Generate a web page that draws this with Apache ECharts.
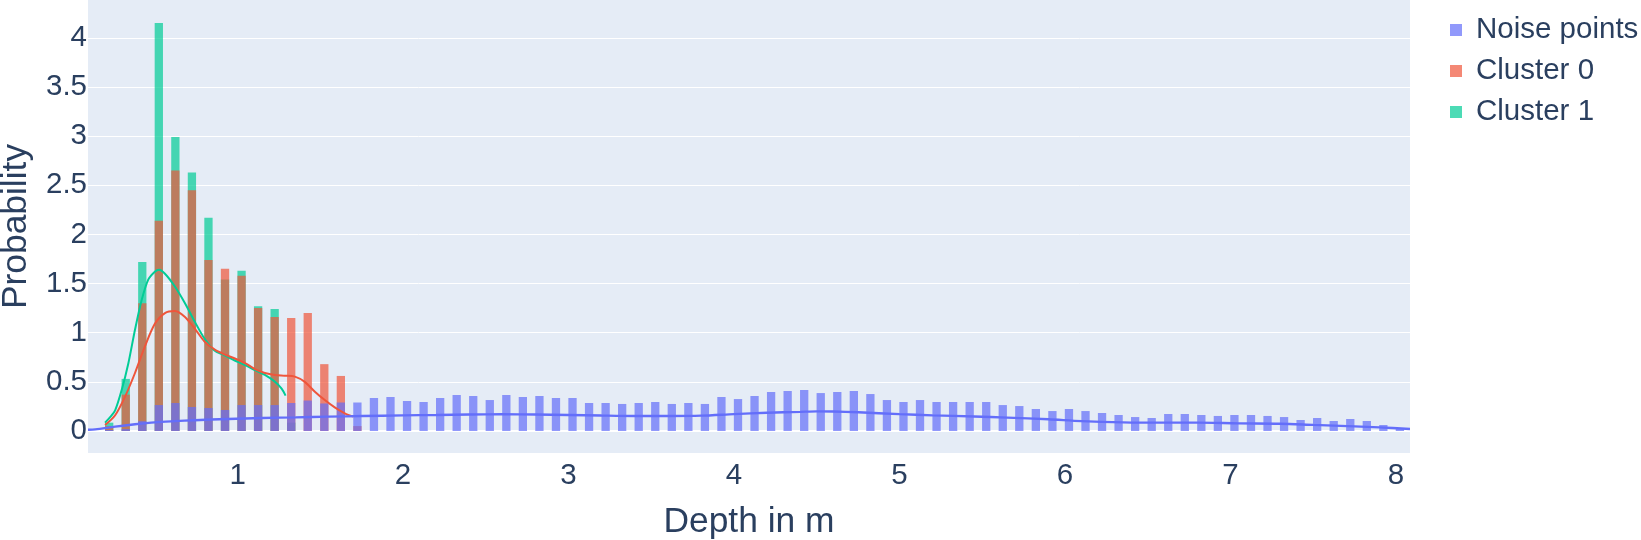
<!DOCTYPE html>
<html>
<head>
<meta charset="utf-8">
<script src="https://cdn.jsdelivr.net/npm/echarts@6.0.0/dist/echarts.min.js"></script>
<style>
  html, body { margin: 0; padding: 0; background: #ffffff; }
  #chart { width: 1641px; height: 540px; }
</style>
</head>
<body>
<div id="chart"></div>
<script>
// ---- Data ----
const binCenters = [
  0.224, 0.324, 0.424, 0.524, 0.624, 0.724, 0.824, 0.924, 1.024, 1.124,
  1.224, 1.324, 1.424, 1.524, 1.624, 1.724, 1.824, 1.924, 2.024, 2.124,
  2.224, 2.324, 2.424, 2.524, 2.624, 2.724, 2.824, 2.924, 3.024, 3.124,
  3.224, 3.324, 3.424, 3.524, 3.624, 3.724, 3.824, 3.924, 4.024, 4.124,
  4.224, 4.324, 4.424, 4.524, 4.624, 4.724, 4.824, 4.924, 5.024, 5.124,
  5.224, 5.324, 5.424, 5.524, 5.624, 5.724, 5.824, 5.924, 6.024, 6.124,
  6.224, 6.324, 6.424, 6.524, 6.624, 6.724, 6.824, 6.924, 7.024, 7.124,
  7.224, 7.324, 7.424, 7.524, 7.624, 7.724, 7.824, 7.924, 8.024
];

const noiseDensity = [
  0.01, 0.02, 0.10, 0.264, 0.285, 0.244, 0.234, 0.214, 0.264, 0.264,
  0.264, 0.285, 0.31, 0.28, 0.29, 0.29, 0.336, 0.346, 0.305, 0.295,
  0.336, 0.366, 0.356, 0.315, 0.366, 0.346, 0.356, 0.336, 0.336, 0.285,
  0.285, 0.275, 0.285, 0.295, 0.275, 0.285, 0.275, 0.346, 0.325, 0.356,
  0.397, 0.407, 0.417, 0.386, 0.397, 0.407, 0.376, 0.315, 0.295, 0.315,
  0.295, 0.295, 0.295, 0.295, 0.264, 0.254, 0.224, 0.203, 0.224, 0.203,
  0.183, 0.163, 0.142, 0.132, 0.173, 0.173, 0.163, 0.153, 0.163, 0.163,
  0.153, 0.142, 0.112, 0.132, 0.102, 0.122, 0.102, 0.061, 0.027
];

const cluster0Density = [
  0.05, 0.37, 1.30, 2.14, 2.65, 2.45, 1.74, 1.65, 1.58, 1.25,
  1.16, 1.15, 1.20, 0.68, 0.56, 0.05
];

const cluster1Density = [
  0.085, 0.53, 1.72, 4.15, 2.99, 2.63, 2.17, 1.54, 1.63, 1.27,
  1.24, 0.085
];

const noiseKdeX = [0.096, 0.14, 0.26, 0.38, 0.50, 0.62, 0.74, 0.94, 1.15, 1.35, 1.55, 1.75, 2.0, 2.2, 2.4, 2.6, 2.8, 3.0, 3.2, 3.4, 3.6, 3.8, 4.0, 4.2, 4.4, 4.5, 4.6, 4.75, 5.0, 5.2, 5.45, 5.65, 5.9, 6.1, 6.35, 6.6, 6.8, 7.05, 7.3, 7.5, 7.75, 7.9, 8.085];
const noiseKdeY = [0.012, 0.017, 0.044, 0.068, 0.088, 0.10, 0.11, 0.122, 0.132, 0.139, 0.146, 0.152, 0.159, 0.163, 0.168, 0.17, 0.168, 0.163, 0.157, 0.153, 0.153, 0.156, 0.172, 0.186, 0.195, 0.2, 0.198, 0.19, 0.172, 0.159, 0.148, 0.136, 0.119, 0.10, 0.088, 0.085, 0.085, 0.078, 0.074, 0.062, 0.047, 0.037, 0.02];

const cluster0KdeX = [0.199, 0.26, 0.32, 0.38, 0.44, 0.50, 0.561, 0.621, 0.682, 0.742, 0.80, 0.86, 0.92, 0.98, 1.045, 1.105, 1.165, 1.226, 1.286, 1.346, 1.406, 1.467, 1.527, 1.587, 1.648, 1.698];
const cluster0KdeY = [0.06, 0.16, 0.35, 0.59, 0.86, 1.09, 1.20, 1.22, 1.16, 1.04, 0.91, 0.83, 0.78, 0.74, 0.69, 0.63, 0.59, 0.57, 0.563, 0.553, 0.50, 0.40, 0.315, 0.24, 0.18, 0.146];

const cluster1KdeX = [0.199, 0.23, 0.26, 0.30, 0.34, 0.38, 0.42, 0.46, 0.50, 0.525, 0.561, 0.621, 0.682, 0.742, 0.80, 0.86, 0.92, 0.98, 1.045, 1.105, 1.165, 1.226, 1.266, 1.29];
const cluster1KdeY = [0.085, 0.14, 0.21, 0.42, 0.69, 1.03, 1.33, 1.54, 1.62, 1.64, 1.60, 1.47, 1.30, 1.11, 0.94, 0.82, 0.77, 0.72, 0.67, 0.62, 0.57, 0.50, 0.43, 0.36];

const seriesNames = ['Noise points', 'Cluster 0', 'Cluster 1'];
const xAxisTitle = 'Depth in m';
const yAxisTitle = 'Probability';

// ---- Helpers ----
function pairs(xs, ys) { return ys.map(function (y, i) { return [xs[i], y]; }); }
const FONT = '"Liberation Sans", Arial, sans-serif';
const TEXT = '#2a3f5f';
const X_MIN = 0.096, X_MAX = 8.085, Y_MIN = -0.2238, Y_MAX = 4.3845;

const chart = echarts.init(document.getElementById('chart'), null, { renderer: 'canvas' });

const option = {
  animation: false,
  backgroundColor: '#ffffff',
  textStyle: { fontFamily: FONT },
  grid: {
    left: 88, right: 231, top: 0, bottom: 87,
    show: true, backgroundColor: '#E5ECF6', borderWidth: 0,
    containLabel: false, outerBoundsMode: 'none'
  },
  legend: {
    show: true,
    orient: 'vertical',
    left: 1445, top: 10,
    itemWidth: 12, itemHeight: 12, itemGap: 11,
    icon: 'rect',
    data: seriesNames,
    textStyle: { fontSize: 29.5, color: TEXT, fontFamily: FONT, padding: [0, 0, 0, 9] }
  },
  xAxis: {
    type: 'value',
    min: X_MIN, max: X_MAX,
    splitNumber: 8,
    axisLine: { show: false, onZero: false },
    axisTick: { show: false },
    splitLine: { show: false },
    axisLabel: {
      fontSize: 29.5, color: TEXT, fontFamily: FONT, margin: 8,
      showMinLabel: false, showMaxLabel: false,
      formatter: function (v) { return Math.abs(v - Math.round(v)) < 1e-6 ? String(Math.round(v)) : ''; }
    },
    name: xAxisTitle,
    nameLocation: 'middle',
    nameGap: 52,
    nameTextStyle: { fontSize: 35.4, color: TEXT, fontFamily: FONT }
  },
  yAxis: {
    type: 'value',
    min: Y_MIN, max: Y_MAX,
    splitNumber: 9,
    axisLine: { show: false, onZero: false },
    axisTick: { show: false },
    splitLine: { show: true, showMinLine: false, showMaxLine: false, lineStyle: { color: '#ffffff', width: 1 } },
    axisLabel: {
      fontSize: 29.5, color: TEXT, fontFamily: FONT, margin: 1,
      padding: [9, 0, 0, 0],
      showMinLabel: false, showMaxLabel: false,
      formatter: function (v) {
        const r = Math.round(v * 2) / 2;
        if (Math.abs(v - r) > 1e-6 || r < 0) return '';
        return String(r);
      }
    },
    name: yAxisTitle,
    nameLocation: 'middle',
    nameGap: 54,
    nameRotate: 90,
    nameTextStyle: { fontSize: 35.4, color: TEXT, fontFamily: FONT }
  },
  series: [
    {
      name: 'zeroline', type: 'line', silent: true, symbol: 'none',
      data: [[X_MIN, 0], [X_MAX, 0]],
      lineStyle: { color: '#ffffff', width: 2 }, z: 1
    },
    {
      name: seriesNames[2], type: 'bar', data: pairs(binCenters, cluster1Density),
      barWidth: 8.3, barGap: '-100%',
      itemStyle: { color: 'rgba(0,204,150,0.7)' }
    },
    {
      name: seriesNames[1], type: 'bar', data: pairs(binCenters, cluster0Density),
      barWidth: 8.3, barGap: '-100%',
      itemStyle: { color: 'rgba(239,85,59,0.7)' }
    },
    {
      name: seriesNames[0], type: 'bar', data: pairs(binCenters, noiseDensity),
      barWidth: 8.3, barGap: '-100%',
      itemStyle: { color: 'rgba(99,110,250,0.7)' }
    },
    {
      name: 'Cluster 1 KDE', type: 'line', symbol: 'none', smooth: 0.3,
      data: pairs(cluster1KdeX, cluster1KdeY),
      lineStyle: { color: '#00cc96', width: 2 }, z: 3
    },
    {
      name: 'Cluster 0 KDE', type: 'line', symbol: 'none', smooth: 0.3,
      data: pairs(cluster0KdeX, cluster0KdeY),
      lineStyle: { color: '#EF553B', width: 2 }, z: 3
    },
    {
      name: 'Noise KDE', type: 'line', symbol: 'none', smooth: 0.3,
      data: pairs(noiseKdeX, noiseKdeY),
      lineStyle: { color: '#636efa', width: 2.4 }, z: 3
    }
  ]
};

chart.setOption(option);
</script>
</body>
</html>
